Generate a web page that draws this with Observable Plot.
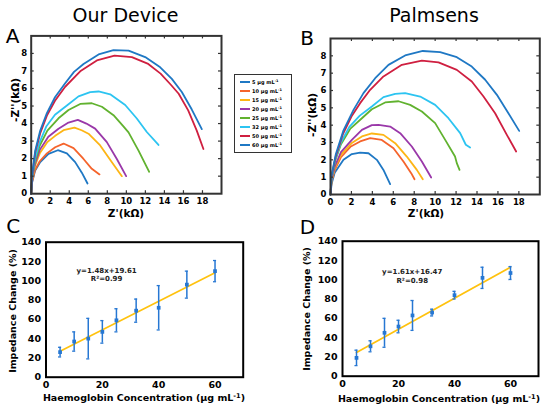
<!DOCTYPE html>
<html><head><meta charset="utf-8">
<script src="https://cdn.jsdelivr.net/npm/d3@7"></script>
<script src="https://cdn.jsdelivr.net/npm/@observablehq/plot@0.6"></script>
<style>
body{margin:0;background:#fff;}
#root{position:relative;width:550px;height:412px;overflow:hidden;font-family:"DejaVu Sans",sans-serif;color:#000;}
.p{position:absolute;}
.lbl{position:absolute;white-space:nowrap;line-height:1;}
sup{font-size:0.7em;line-height:0;vertical-align:0.45em;}
</style></head><body><div id="root"></div>
<script>
// ---------- Data ----------
const concLabels = ["5","10","15","20","25","32","50","60"];
const curveColors = ["#1f78c4","#f5642c","#fdb515","#9a38a9","#61b22f","#2cc4f1","#cf1f40","#1f78c4"];

// Panel A (Our Device) Nyquist curves: [Z', -Z''] in kΩ
const a05 = [[0,0],[0.1,0.65],[0.4,1.3],[0.95,1.8],[1.82,2.27],[2.8,2.48],[3.75,2.3],[4.62,1.8],[5.32,1.2],[5.92,0.58]];
const a10 = [[0,0],[0.1,0.7],[0.4,1.35],[0.9,1.85],[1.65,2.3],[2.52,2.65],[3.4,2.86],[4.45,2.6],[5.5,1.98],[6.37,1.42],[7.18,1.1]];
const a15 = [[0,0],[0.1,0.8],[0.4,1.6],[0.9,2.3],[1.7,2.95],[2.52,3.3],[3.4,3.62],[4.55,3.77],[5.3,3.62],[6.02,3.42],[7.25,2.75],[8.48,1.79],[9.53,1.0]];
const a20 = [[0,0],[0.1,0.85],[0.4,1.7],[0.9,2.5],[1.8,3.25],[2.87,3.7],[3.92,4.06],[4.9,4.21],[5.8,4.0],[6.72,3.71],[7.95,2.94],[9.0,1.98],[9.98,1.0]];
const a25 = [[0,0],[0.1,0.9],[0.4,1.85],[0.9,2.75],[1.7,3.6],[2.87,4.3],[3.92,4.77],[5.15,5.12],[6.37,5.16],[7.43,4.96],[8.65,4.48],[9.6,3.9],[10.23,3.5],[11.28,2.46],[12.4,1.25]];
const a32 = [[0,0],[0.1,0.95],[0.4,2.0],[0.9,2.95],[1.6,3.85],[2.5,4.5],[3.92,5.1],[4.97,5.55],[6.2,5.79],[7.08,5.83],[8.3,5.67],[9.88,5.06],[11.1,4.29],[12.15,3.52],[13.38,2.78]];
const a50 = [[0,0],[0.1,1.0],[0.42,2.35],[0.95,3.45],[1.65,4.45],[2.5,5.3],[3.57,6.1],[5.15,6.98],[6.9,7.6],[8.76,7.88],[10.58,7.79],[12.3,7.4],[13.6,6.85],[14.7,6.2],[15.5,5.7],[16.5,4.75],[17.4,3.6],[18.1,2.55]];
const a60 = [[0,0],[0.1,1.1],[0.42,2.45],[0.95,3.6],[1.65,4.6],[2.5,5.5],[3.57,6.3],[4.5,6.95],[5.5,7.4],[7.08,7.94],[8.65,8.19],[10.23,8.16],[11.98,7.79],[13.56,7.21],[14.78,6.55],[15.83,5.8],[16.88,4.8],[17.93,3.68]];

// Panel B (Palmsens) Nyquist curves
const b05 = [[0,0],[0.1,0.6],[0.4,1.25],[1.24,2.0],[2.04,2.33],[2.83,2.42],[3.63,2.38],[4.43,2.0],[5.06,1.42],[5.7,0.6]];
const b10 = [[0,0],[0.1,0.75],[0.4,1.4],[1.0,2.15],[1.9,2.75],[2.83,3.06],[3.79,3.25],[4.9,3.15],[6.02,2.67],[6.97,1.9],[7.71,1.23],[8.03,0.88]];
const b15 = [[0,0],[0.1,0.8],[0.4,1.5],[1.0,2.3],[2.0,2.95],[3.0,3.35],[3.95,3.52],[5.06,3.44],[6.18,2.96],[7.29,2.19],[8.25,1.42],[8.82,0.88]];
const b20 = [[0,0],[0.1,0.85],[0.4,1.6],[1.0,2.45],[2.04,3.15],[3.0,3.73],[3.95,4.0],[4.59,4.02],[5.7,3.92],[6.66,3.54],[7.77,2.77],[8.73,1.9],[9.62,0.98]];
const b25 = [[0,0],[0.1,0.9],[0.45,1.95],[1.0,2.9],[1.9,3.8],[3.0,4.4],[3.95,4.92],[5.22,5.31],[6.5,5.38],[7.61,5.17],[8.73,4.79],[10.0,4.12],[10.96,3.15],[11.9,2.19],[12.07,1.81],[12.33,1.42]];
const b32 = [[0,0],[0.1,0.95],[0.45,2.0],[1.0,3.0],[1.8,3.9],[2.8,4.55],[3.95,5.08],[5.06,5.62],[6.18,5.81],[7.13,5.85],[8.57,5.65],[10.0,5.17],[11.27,4.4],[12.39,3.54],[12.93,2.87],[13.34,2.71]];
const b50 = [[0,0],[0.1,1.05],[0.5,2.2],[1.2,3.5],[2.0,4.5],[2.83,5.27],[3.79,6.04],[5.06,6.81],[6.82,7.48],[8.73,7.72],[10.32,7.62],[12.07,7.19],[13.5,6.52],[14.62,5.65],[15.73,4.69],[16.85,3.44],[17.74,2.48]];
const b60 = [[0,0],[0.1,1.1],[0.5,2.3],[1.24,3.7],[2.2,4.88],[3.15,5.85],[4.27,6.71],[5.54,7.48],[7.13,8.02],[8.82,8.28],[10.48,8.21],[12.07,7.92],[13.5,7.38],[14.78,6.62],[15.9,5.75],[17.0,4.69],[18.03,3.67]];

// Nyquist axis ticks
const nyqXTicks = [0,2,4,6,8,10,12,14,16,18];
const nyqYTicks = [0,1,2,3,4,5,6,7,8];
const nyqXMarks = [2,4,6,8,10,12,14,16,18];
const nyqYMarks = [1,2,3,4,5,6,7,8];

// Calibration panels C and D
const calX  = [5,10,15,20,25,32,40,50,60];
const calCY = [26,37,40,47,59,69,72,96,110];
const calCE = [5,10,21,11.7,12,12,23,14,11];
const calDY = [19,31,45,51.5,63,66,84,102,107];
const calDE = [8,5.7,15,6.5,15.5,3.5,4,11,6.7];
const fitX  = [5,60];
const fitCY = [27.0,108.4];
const fitDY = [24.5,113.1];
const calXTicks = [0,20,40,60];
const calYTicks = [0,20,40,60,80,100,120,140];
const eqC = "y=1.48x+19.61\nR²=0.99";
const eqD = "y=1.61x+16.47\nR²=0.98";

// ---------- Build ----------
const root = document.getElementById("root");
const curvesA = [a05,a10,a15,a20,a25,a32,a50,a60];
const curvesB = [b05,b10,b15,b20,b25,b32,b50,b60];
const toRows = curves => concLabels.flatMap((c,i)=>curves[i].map(([x,y])=>({c,x,y})));

function place(el, left, top){ el.classList.add("p"); el.style.left=left+"px"; el.style.top=top+"px"; root.appendChild(el); }
function label(html, cx, cy, size, weight, rot){
  const d=document.createElement("div"); d.className="lbl"; d.innerHTML=html;
  d.style.fontSize=size+"px"; d.style.fontWeight=weight;
  d.style.left=cx+"px"; d.style.top=cy+"px";
  d.style.transform="translate(-50%,-50%)"+(rot?" rotate("+rot+"deg)":"");
  root.appendChild(d);
}

function nyquist(rows, W, H, m){
  const fh = H - m.top - m.bottom;
  const fw = W - m.left - m.right;
  return Plot.plot({
    width:W, height:H, marginLeft:m.left, marginRight:m.right, marginTop:m.top, marginBottom:m.bottom,
    x:{domain:[0,20], label:null}, y:{domain:[0,9], label:null},
    color:{type:"ordinal", domain:concLabels, range:curveColors},
    style:{fontFamily:"DejaVu Sans", fontSize:"8.5px", fontWeight:"bold", background:"transparent", overflow:"visible", color:"#000"},
    marks:[
      Plot.line(rows,{x:"x",y:"y",z:"c",stroke:"c",strokeWidth:1.8}),
      Plot.tickX(nyqXMarks,{x:d=>d, insetTop:fh-3, stroke:"#333", strokeWidth:1.2}),
      Plot.tickX(nyqXMarks,{x:d=>d, insetBottom:fh-3, stroke:"#333", strokeWidth:1.2}),
      Plot.tickY(nyqYMarks,{y:d=>d, insetRight:fw-3, stroke:"#333", strokeWidth:1.2}),
      Plot.tickY(nyqYMarks,{y:d=>d, insetLeft:fw-3, stroke:"#333", strokeWidth:1.2}),
      Plot.axisX(nyqXTicks,{tickSize:0, tickPadding:4, label:null}),
      Plot.axisY(nyqYTicks,{tickSize:0, tickPadding:4, label:null}),
      Plot.frame({stroke:"#333", strokeWidth:2})
    ]
  });
}

function calib(ys, es, fy, eq, eqX, eqY, W, H, m){
  const rows = calX.map((x,i)=>({x, y:ys[i], e:es[i]}));
  const fit = fitX.map((x,i)=>({x, y:fy[i]}));
  const blue = "#2677d3";
  return Plot.plot({
    width:W, height:H, marginLeft:m.left, marginRight:m.right, marginTop:m.top, marginBottom:m.bottom,
    x:{domain:[0,70], label:null}, y:{domain:[0,140], label:null},
    style:{fontFamily:"DejaVu Sans", fontSize:"9.5px", fontWeight:"bold", background:"transparent", overflow:"visible", color:"#000"},
    marks:[
      Plot.line(fit,{x:"x",y:"y",stroke:"#ffc20e",strokeWidth:1.7}),
      Plot.ruleX(rows,{x:"x", y1:d=>d.y-d.e, y2:d=>d.y+d.e, stroke:blue, strokeWidth:1.5}),
      Plot.ruleY(rows,{y:d=>d.y+d.e, x1:d=>d.x-0.55, x2:d=>d.x+0.55, stroke:blue, strokeWidth:1.3}),
      Plot.ruleY(rows,{y:d=>d.y-d.e, x1:d=>d.x-0.55, x2:d=>d.x+0.55, stroke:blue, strokeWidth:1.3}),
      Plot.dot(rows,{x:"x", y:"y", symbol:"square", r:2.1, fill:blue, stroke:"none"}),
      Plot.text([eq],{x:eqX, y:eqY, text:d=>d, fontSize:7, fontWeight:"bold", lineHeight:1.2, fill:"#222"}),
      Plot.axisX(calXTicks,{tickSize:0, tickPadding:4, label:null}),
      Plot.axisY(calYTicks,{tickSize:0, tickPadding:5, label:null}),
      Plot.frame({stroke:"#000", strokeWidth:2})
    ]
  });
}

// Panels
place(nyquist(toRows(curvesA), 230, 230, {left:30.7, right:9, top:35.4, bottom:36.8}), 0, 0);
place(nyquist(toRows(curvesB), 275, 230, {left:55, right:10.7, top:38, bottom:36}), 275, 0);
place(calib(calCY, calCE, fitCY, eqC, 21.5, 107, 260, 200, {left:45.5, right:17.3, top:41.7, bottom:23.3}), 0, 200);
place(calib(calDY, calDE, fitDY, eqD, 24.9, 104.2, 275, 200, {left:67, right:12, top:40.7, bottom:24.3}), 275, 200);

// Titles and panel letters
label("Our Device", 125.5, 14.7, 19, "normal");
label("Palmsens", 434, 15, 19, "normal");
label("A", 12.5, 35.8, 20, "normal");
label("B", 307, 37.5, 20, "normal");
label("C", 13.2, 225.8, 20, "normal");
label("D", 307.5, 227, 20, "normal");

// Axis labels
label("-Z''(kΩ)", 15, 100, 10.5, "bold", -90);
label("Z'(kΩ)", 126, 212.5, 10.5, "bold");
label("-Z''(kΩ)", 312, 115, 10.5, "bold", -90);
label("Z'(kΩ)", 426, 212.5, 10.5, "bold");
label("Impedance Change (%)", 12.5, 311, 9.5, "bold", -90);
label("Haemoglobin Concentration (µg mL<sup>-1</sup>)", 144, 398, 9.5, "bold");
label("Impedance Change (%)", 307, 309, 9.5, "bold", -90);
label("Haemoglobin Concentration (µg mL<sup>-1</sup>)", 439, 399, 9.5, "bold");

// Legend
const lg = document.createElement("div");
lg.style.cssText = "position:absolute;left:234px;top:74px;width:56px;height:77px;border:1.5px solid #333;background:#fff;";
concLabels.forEach((c,i)=>{
  const cy = 82.7 + i*9.04 - 74 - 1.5;
  const ln = document.createElement("div");
  ln.style.cssText = `position:absolute;left:${240-234-1.5}px;top:${cy-1}px;width:10px;height:2px;background:${curveColors[i]};`;
  lg.appendChild(ln);
  const t = document.createElement("div");
  t.style.cssText = `position:absolute;left:${252.5-234-1.5}px;top:${cy-3}px;font-size:5px;font-weight:bold;line-height:6px;white-space:nowrap;`;
  t.innerHTML = `${c} µg mL<sup>-1</sup>`;
  lg.appendChild(t);
});
root.appendChild(lg);
</script></body></html>
